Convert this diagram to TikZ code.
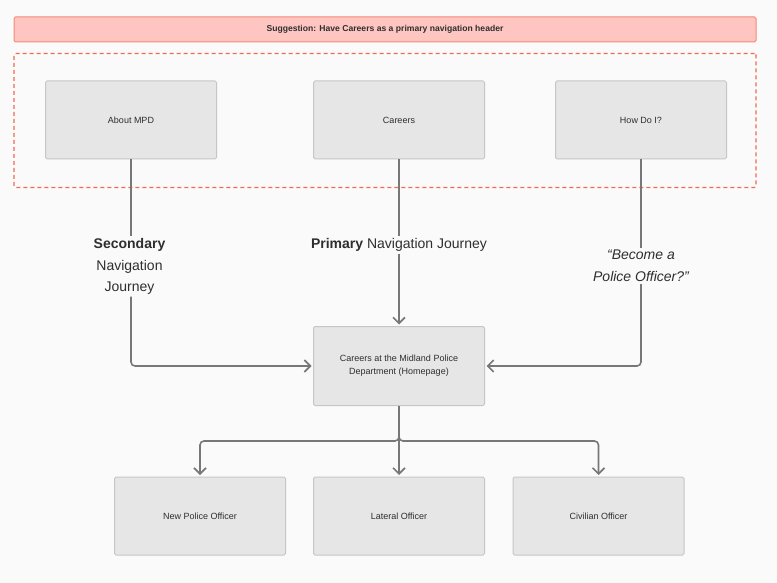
\documentclass[tikz,border=0pt]{standalone}
\usepackage{fontspec}
\setmainfont{Liberation Sans}
\usetikzlibrary{arrows.meta}
\definecolor{bg}{HTML}{FAFAFA}
\definecolor{boxfill}{HTML}{E6E6E6}
\definecolor{boxline}{HTML}{C6C6C6}
\definecolor{bannerfill}{HTML}{FFC6C1}
\definecolor{bannerline}{HTML}{F58A78}
\definecolor{dashline}{HTML}{F26A50}
\definecolor{conn}{HTML}{777777}
\definecolor{txt}{HTML}{2E2E2E}
\tikzset{
  pagebox/.style={draw=boxline, fill=boxfill, line width=1pt, rounded corners=1.5pt,
    minimum width=171pt, minimum height=78pt, inner sep=0pt, align=center,
    text=txt, font={\fontsize{9}{13}\selectfont}},
  banner/.style={draw=bannerline, fill=bannerfill, line width=1pt, rounded corners=1.5pt,
    minimum width=742pt, minimum height=25pt, inner sep=0pt, text=txt,
    font={\fontsize{8.6}{10}\selectfont\bfseries}},
  groupbox/.style={draw=dashline, line width=1.1pt, dash pattern=on 4pt off 3pt,
    rounded corners=1.5pt, minimum width=742pt, minimum height=134pt, inner sep=0pt},
  jlabel/.style={align=center, text=txt, inner xsep=0pt, inner ysep=2pt,
    font={\fontsize{14}{21.5}\selectfont}},
  conline/.style={draw=conn, line width=1.6pt, rounded corners=4pt},
  arr/.style={conline, -{Straight Barb[length=6pt,width=12pt,line width=1.6pt]}, shorten >=1.5pt}
}
\begin{document}
\begin{tikzpicture}[x=1pt,y=-1pt]
\fill[bg] (0,0) rectangle (777,583);
\useasboundingbox (0,0) rectangle (777,583);

\node[banner] (sugg) at (385,29.5) {Suggestion: Have Careers as a primary navigation header};
\node[groupbox] (group) at (385,120.5) {};

\node[pagebox] (about) at (131,120) {About MPD};
\node[pagebox] (careers) at (399,120) {Careers};
\node[pagebox] (how) at (641,120) {How Do I?};

\node[pagebox, minimum height=79pt] (home) at (399,366) {Careers at the Midland Police\\Department (Homepage)};

\node[pagebox] (newpo) at (200,516) {New Police Officer};
\node[pagebox] (lateral) at (399,516) {Lateral Officer};
\node[pagebox] (civ) at (598.5,516) {Civilian Officer};

\node[jlabel] (sec) at (129.5,266.5) {\textbf{Secondary}\\Navigation\\Journey};
\node[jlabel] (prim) at (399,245) {\textbf{Primary} Navigation Journey};
\node[jlabel, font={\fontsize{14}{22}\selectfont\itshape}] (bec) at (641,266) {“Become a\\Police Officer?”};

\draw[conline] (about.south) -- (about.south |- sec.north);
\draw[arr] (about.south |- sec.south) |- (home.west);

\draw[conline] (careers.south) -- (prim.north);
\draw[arr] (prim.south) -- (home.north);

\draw[conline] (how.south) -- (how.south |- bec.north);
\draw[arr] (how.south |- bec.south) |- (home.east);

\coordinate (split) at (399,441);
\draw[arr] (home.south) -- (split) -| (newpo.north);
\draw[arr] (home.south) -- (split) -- (lateral.north);
\draw[arr] (home.south) -- (split) -| (civ.north);
\end{tikzpicture}
\end{document}
